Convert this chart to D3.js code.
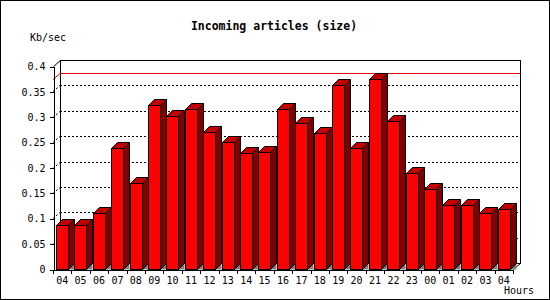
<!DOCTYPE html>
<html>
<head>
<meta charset="utf-8">
<script src="https://cdn.jsdelivr.net/npm/d3@7"></script>
<style>
  body { margin: 0; background: #fff; }
  svg { display: block; }
  text { font-family: "DejaVu Sans Mono", monospace; fill: #000; }
</style>
</head>
<body>
<svg id="chart" width="550" height="300"></svg>
<script>
// Chart data
var hours = ["04","05","06","07","08","09","10","11","12","13","14","15","16",
             "17","18","19","20","21","22","23","00","01","02","03","04"];
var kbPerSec = [0.086, 0.086, 0.110, 0.238, 0.169, 0.323, 0.301, 0.315, 0.269, 0.250,
                0.229, 0.230, 0.315, 0.287, 0.267, 0.362, 0.238, 0.374, 0.291, 0.189,
                0.157, 0.127, 0.127, 0.110, 0.118];
var yTicks = [0, 0.05, 0.1, 0.15, 0.2, 0.25, 0.3, 0.35, 0.4];
var yTickLabels = ["0", "0.05", "0.1", "0.15", "0.2", "0.25", "0.3", "0.35", "0.4"];

function makeBarGraph() {
	var svg = d3.select("#chart");

	var left = 53, right = 513, top = 66, bottom = 269;
	var dx = 7, dy = 6;      // depth of the back plane
	var bd = 6;              // depth of each bar

	var x = d3.scaleBand()
		.domain(d3.range(hours.length))
		.range([left, right])
		.paddingInner(0)
		.paddingOuter(0);

	var y = d3.scaleLinear()
		.domain([0, 0.4])
		.range([bottom, top]);

	// outer frame
	svg.append("rect")
		.attr("x", 0.5).attr("y", 0.5)
		.attr("width", 549).attr("height", 299)
		.attr("fill", "#fff")
		.attr("stroke", "#000");

	// title and axis titles
	svg.append("text")
		.attr("x", 274).attr("y", 30)
		.attr("text-anchor", "middle")
		.style("font-size", "11.5px")
		.style("font-weight", "bold")
		.text("Incoming articles (size)");

	svg.append("text")
		.attr("x", 30).attr("y", 41)
		.style("font-size", "10px")
		.text("Kb/sec");

	svg.append("text")
		.attr("x", 534).attr("y", 294)
		.attr("text-anchor", "end")
		.style("font-size", "10px")
		.text("Hours");

	var plot = svg.append("g").attr("shape-rendering", "crispEdges");

	// back plane
	plot.append("rect")
		.attr("x", left + dx + 0.5)
		.attr("y", y(0.4) - dy + 0.5)
		.attr("width", right - left)
		.attr("height", bottom - top)
		.attr("fill", "none")
		.attr("stroke", "#000");

	// dotted grid lines on back plane and side plane
	var grid = yTicks.filter(function(d) { return d > 0 && d < 0.4; });
	plot.selectAll(".grid")
		.data(grid)
	  .enter().append("line")
		.attr("class", "grid")
		.attr("x1", left + dx).attr("x2", right + dx)
		.attr("y1", function(d) { return Math.round(y(d)) - dy + 0.5; })
		.attr("y2", function(d) { return Math.round(y(d)) - dy + 0.5; })
		.attr("stroke", "#000")
		.attr("stroke-dasharray", "2,2");

	plot.selectAll(".sidegrid")
		.data(grid)
	  .enter().append("line")
		.attr("class", "sidegrid")
		.attr("x1", left).attr("x2", left + dx)
		.attr("y1", function(d) { return Math.round(y(d)) + 0.5; })
		.attr("y2", function(d) { return Math.round(y(d)) - dy + 0.5; })
		.attr("stroke", "#000")
		.attr("stroke-dasharray", "2,2")
		.attr("shape-rendering", "auto");

	// max line
	var ymax = Math.round(y(d3.max(kbPerSec)));
	plot.append("line")
		.attr("x1", left + dx).attr("x2", right + dx)
		.attr("y1", ymax - dy + 0.5).attr("y2", ymax - dy + 0.5)
		.attr("stroke", "#e00000");
	plot.append("line")
		.attr("x1", left).attr("x2", left + dx)
		.attr("y1", ymax + 0.5).attr("y2", ymax - dy + 0.5)
		.attr("stroke", "#e00000")
		.attr("shape-rendering", "auto");

	// top-left and bottom corner edges of the box
	plot.append("line")
		.attr("x1", left + 0.5).attr("y1", top + 0.5)
		.attr("x2", left + dx + 0.5).attr("y2", top - dy + 0.5)
		.attr("stroke", "#000")
		.attr("shape-rendering", "auto");
	plot.append("line")
		.attr("x1", right + 0.5).attr("y1", bottom + 0.5)
		.attr("x2", right + dx + 0.5).attr("y2", bottom - dy + 0.5)
		.attr("stroke", "#000")
		.attr("shape-rendering", "auto");

	// bars
	var bw = Math.round(x.bandwidth() * 0.63);
	var bars = plot.selectAll(".bar")
		.data(kbPerSec)
	  .enter().append("g")
		.attr("class", "bar")
		.attr("shape-rendering", "auto");

	function bx(d, i) { return Math.round(x(i) + 3) + 0.5; }
	function by(d) { return Math.round(y(d)) + 0.5; }
	var yb = bottom + 0.5;

	bars.append("path")
		.attr("fill", "#808080")
		.attr("d", function(d, i) {
			var x0 = bx(d, i) + bw;
			return "M" + x0 + "," + yb + "L" + (x0 + bd) + "," + (yb - bd) +
				"L" + (x0 + bd) + "," + yb + "Z";
		});

	bars.append("path")
		.attr("fill", "#800000")
		.attr("stroke", "#000")
		.attr("d", function(d, i) {
			var x0 = bx(d, i) + bw, y0 = by(d);
			return "M" + x0 + "," + y0 + "L" + (x0 + bd) + "," + (y0 - bd) +
				"L" + (x0 + bd) + "," + (yb - bd) + "L" + x0 + "," + yb + "Z";
		});

	bars.append("path")
		.attr("fill", "#c00000")
		.attr("stroke", "#000")
		.attr("d", function(d, i) {
			var x0 = bx(d, i), y0 = by(d);
			return "M" + x0 + "," + y0 + "L" + (x0 + bd) + "," + (y0 - bd) +
				"L" + (x0 + bw + bd) + "," + (y0 - bd) + "L" + (x0 + bw) + "," + y0 + "Z";
		});

	bars.append("rect")
		.attr("fill", "#ff0000")
		.attr("stroke", "#000")
		.attr("shape-rendering", "crispEdges")
		.attr("x", bx)
		.attr("y", by)
		.attr("width", bw)
		.attr("height", function(d) { return yb - by(d); });

	// y axis
	var yAxis = d3.axisLeft(y)
		.tickValues(yTicks)
		.tickFormat(function(d, i) { return yTickLabels[i]; })
		.tickSize(4)
		.tickPadding(4)
		.tickSizeOuter(0);

	var ya = svg.append("g")
		.attr("class", "y axis")
		.attr("transform", "translate(" + (left + 0.5) + ",0.5)")
		.attr("shape-rendering", "crispEdges")
		.call(yAxis);
	ya.select(".domain").attr("stroke", "#000");
	ya.selectAll(".tick line").attr("stroke", "#000");
	ya.selectAll("text")
		.style("font-family", "DejaVu Sans Mono, monospace")
		.style("font-size", "10px")
		.attr("fill", "#000");

	// x axis (labels centered, ticks on band edges)
	var xAxis = d3.axisBottom(x)
		.tickFormat(function(i) { return hours[i]; })
		.tickSize(0)
		.tickPadding(7)
		.tickSizeOuter(0);

	var xa = svg.append("g")
		.attr("class", "x axis")
		.attr("transform", "translate(0," + (bottom + 0.5) + ")")
		.attr("shape-rendering", "crispEdges")
		.call(xAxis);
	xa.select(".domain").attr("stroke", "#000");
	xa.selectAll("text")
		.style("font-family", "DejaVu Sans Mono, monospace")
		.style("font-size", "10px")
		.attr("fill", "#000");

	xa.selectAll(".edge")
		.data(d3.range(hours.length + 1))
	  .enter().append("line")
		.attr("class", "edge")
		.attr("x1", function(i) { return Math.round(left + i * x.step()) + 0.5; })
		.attr("x2", function(i) { return Math.round(left + i * x.step()) + 0.5; })
		.attr("y1", 0).attr("y2", 4)
		.attr("stroke", "#000");
}

makeBarGraph();
</script>
</body>
</html>
